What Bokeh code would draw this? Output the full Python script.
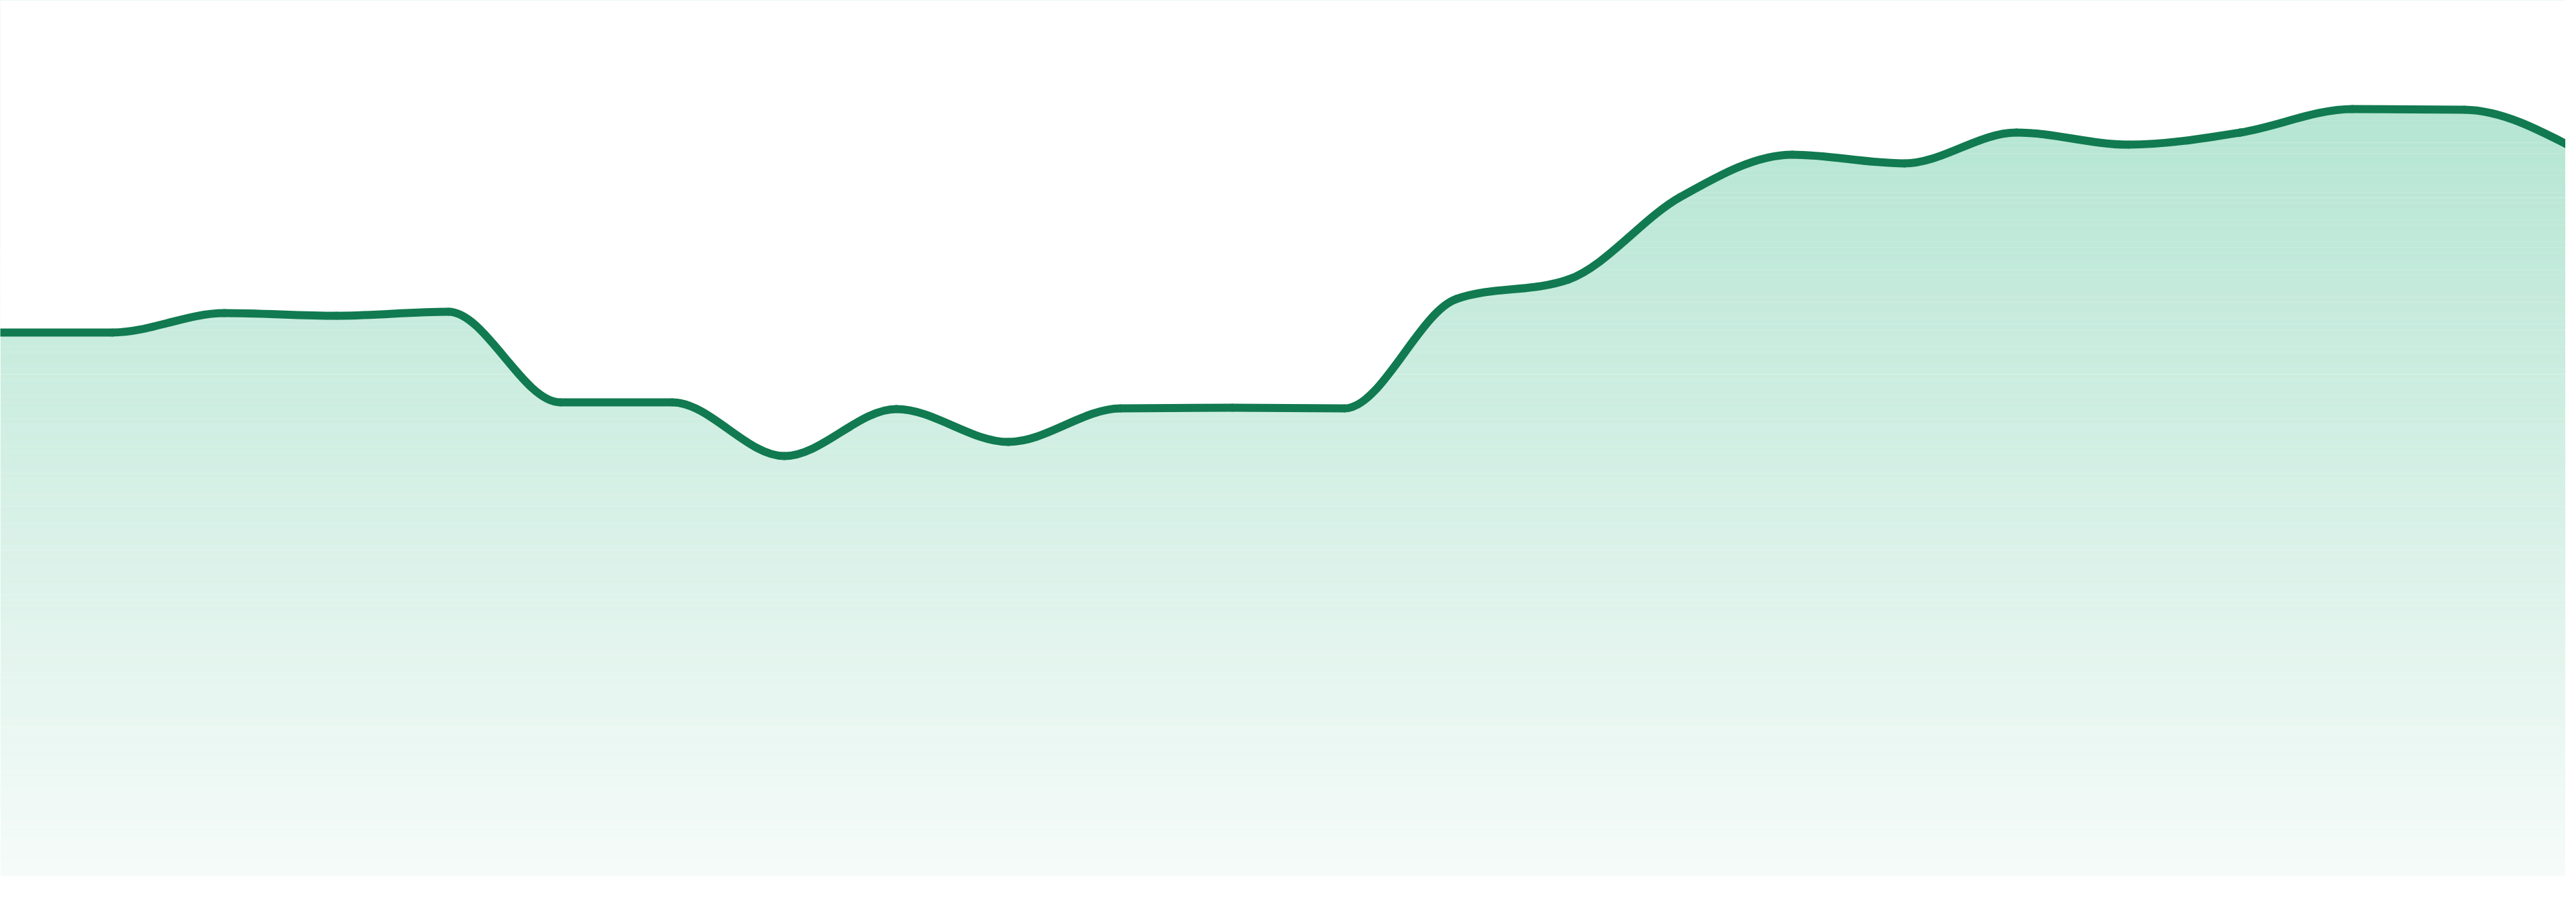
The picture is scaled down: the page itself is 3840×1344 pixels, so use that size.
import numpy as np
from bokeh.plotting import figure
from bokeh.models import ColumnDataSource, Range1d
from bokeh.embed import file_html
from bokeh.resources import INLINE

# ---- data ----
x_index = list(range(24))
values = [81.0, 81.0, 83.9, 83.5, 84.1, 70.6, 70.6, 62.6, 69.6, 64.7, 69.7, 69.8,
          69.7, 86.0, 88.9, 101.2, 107.5, 106.2, 110.8, 109.0, 110.8, 114.3, 114.2, 108.3]

LINE_COLOR = "#117a50"
TOP_RGB = (181, 229, 211)
BOTTOM_RGB = (246, 251, 249)


def monotone_slopes(xs, ys):
    """Tangents as in d3.curveMonotoneX."""
    n = len(xs)
    t = [0.0] * n
    def sign(v):
        return -1.0 if v < 0 else 1.0
    for i in range(1, n - 1):
        h0 = xs[i] - xs[i - 1]
        h1 = xs[i + 1] - xs[i]
        s0 = (ys[i] - ys[i - 1]) / h0
        s1 = (ys[i + 1] - ys[i]) / h1
        p = (s0 * h1 + s1 * h0) / (h0 + h1)
        t[i] = (sign(s0) + sign(s1)) * min(abs(s0), abs(s1), 0.5 * abs(p))
    h = xs[1] - xs[0]
    t[0] = (3 * (ys[1] - ys[0]) / h - t[1]) / 2
    h = xs[-1] - xs[-2]
    t[-1] = (3 * (ys[-1] - ys[-2]) / h - t[-2]) / 2
    return t


xs = [float(v) for v in x_index]
ys = [float(v) for v in values]
tan = monotone_slopes(xs, ys)

seg = dict(x0=[], y0=[], x1=[], y1=[], cx0=[], cy0=[], cx1=[], cy1=[])
for i in range(len(xs) - 1):
    dx = (xs[i + 1] - xs[i]) / 3.0
    seg["x0"].append(xs[i]); seg["y0"].append(ys[i])
    seg["x1"].append(xs[i + 1]); seg["y1"].append(ys[i + 1])
    seg["cx0"].append(xs[i] + dx); seg["cy0"].append(ys[i] + dx * tan[i])
    seg["cx1"].append(xs[i + 1] - dx); seg["cy1"].append(ys[i + 1] - dx * tan[i + 1])

# sample the same Bezier segments for the area's upper edge
px, py = [], []
tt = np.linspace(0, 1, 41)
for i in range(len(xs) - 1):
    P = [(seg["x0"][i], seg["y0"][i]), (seg["cx0"][i], seg["cy0"][i]),
         (seg["cx1"][i], seg["cy1"][i]), (seg["x1"][i], seg["y1"][i])]
    bx = ((1 - tt) ** 3) * P[0][0] + 3 * ((1 - tt) ** 2) * tt * P[1][0] + 3 * (1 - tt) * tt ** 2 * P[2][0] + tt ** 3 * P[3][0]
    by = ((1 - tt) ** 3) * P[0][1] + 3 * ((1 - tt) ** 2) * tt * P[1][1] + 3 * (1 - tt) * tt ** 2 * P[2][1] + tt ** 3 * P[3][1]
    if i > 0:
        bx, by = bx[1:], by[1:]
    px.extend(bx.tolist()); py.extend(by.tolist())

# ---- figure (fits the window with its 8px margin) ----
W, H = 3824, 1328
PX_PER_STEP = 166.96   # horizontal pixels between two points
PX_PER_UNIT = 10.0     # vertical pixels per value unit
x_start = 0.0
x_end = W / PX_PER_STEP
y_top = 130.5
y_bottom = y_top - H / PX_PER_UNIT

p = figure(width=W, height=H, output_backend="svg", toolbar_location=None,
           x_range=Range1d(x_start, x_end), y_range=Range1d(y_bottom, y_top),
           min_border=0, min_border_left=0, min_border_right=0,
           min_border_top=0, min_border_bottom=0)
p.axis.visible = False
p.grid.visible = False
p.outline_line_color = None
p.background_fill_color = "white"
p.border_fill_color = "white"

# vertical gradient: horizontal bands under the curve
vmax = max(values)
nb = 160
edges = np.linspace(0, y_top + 1, nb + 1)
band_colors = []
for k in range(nb):
    mid = 0.5 * (edges[k] + edges[k + 1])
    f = min(max(mid / vmax, 0.0), 1.0)  # 0 at bottom, 1 at top of area
    r = int(round(BOTTOM_RGB[0] + (TOP_RGB[0] - BOTTOM_RGB[0]) * f))
    g = int(round(BOTTOM_RGB[1] + (TOP_RGB[1] - BOTTOM_RGB[1]) * f))
    b = int(round(BOTTOM_RGB[2] + (TOP_RGB[2] - BOTTOM_RGB[2]) * f))
    band_colors.append("#%02x%02x%02x" % (r, g, b))
bands = ColumnDataSource(dict(left=[xs[0]] * nb, right=[xs[-1]] * nb,
                              bottom=edges[:-1].tolist(), top=(edges[1:] + 0.02).tolist(),
                              color=band_colors))
p.quad(left="left", right="right", bottom="bottom", top="top", source=bands,
       fill_color="color", line_color=None)

# white mask above the curve
mask = ColumnDataSource(dict(x=px, y1=py, y2=[y_top + 10] * len(px)))
p.varea(x="x", y1="y1", y2="y2", source=mask, fill_color="white")

# the line itself
p.bezier(x0="x0", y0="y0", x1="x1", y1="y1", cx0="cx0", cy0="cy0", cx1="cx1", cy1="cy1",
         source=ColumnDataSource(seg), line_color=LINE_COLOR, line_width=12, line_cap="round")

open("out.html", "w").write(file_html(p, INLINE))
